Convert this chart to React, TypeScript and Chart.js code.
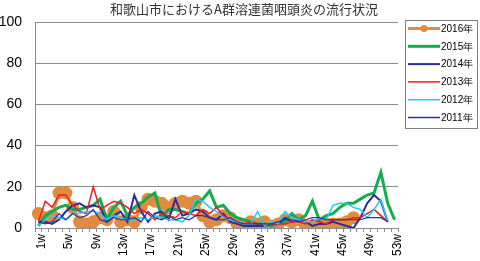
import React, { useEffect, useRef } from "react";
import { Chart, registerables } from "chart.js";

Chart.register(...registerables);

const TITLE = "和歌山市におけるA群溶連菌咽頭炎の流行状況";

const weeks = [
  "1w","2w","3w","4w","5w","6w","7w","8w","9w","10w",
  "11w","12w","13w","14w","15w","16w","17w","18w","19w","20w",
  "21w","22w","23w","24w","25w","26w","27w","28w","29w","30w",
  "31w","32w","33w","34w","35w","36w","37w","38w","39w","40w",
  "41w","42w","43w","44w","45w","46w","47w","48w","49w","50w",
  "51w","52w","53w",
];

const yTicks = [0, 20, 40, 60, 80, 100];

const s2016 = [7,5,6,17,17,10,3,2,3,5, 4,8,3,4,3,10,14,13,12,10, 12,13,12,13,6,3,4,6,5,2, 1,3,2,3,1,2,4,3,4,1, 1,1,2,2,2,3,5,null,null,null, null,null,null];
const s2015 = [1,6,8,10,11,9,9,10,11,14, 4,10,13,6,10,12,15,17,5,9, 9,8,7,12,14,18,10,11,7,5, 4,3,2,2,1,2,3,7,4,6, 13,4,6,7,10,12,12,14,16,17, 27,12,4];
const s2014 = [3,3,2,4,8,11,12,10,11,10, 3,6,8,3,16,8,3,7,8,4, 14,6,7,9,8,5,4,7,3,2, 1,1,1,1,2,2,5,3,4,3, 1,2,2,3,2,1,0,5,12,16, 13,3,null];
const s2013 = [3,13,10,16,16,11,8,7,20,9, 11,13,12,10,7,9,7,4,7,6, 5,8,7,6,9,7,10,6,4,3, 2,3,2,2,2,2,2,3,3,2, 4,3,2,4,4,4,5,5,7,9, 6,3,null];
const s2012 = [1,4,6,5,4,7,7,8,8,7, 4,6,5,4,4,5,4,6,5,4, 4,3,6,14,13,10,8,5,4,3, 2,2,8,1,3,2,8,5,4,3, 3,5,4,11,12,12,10,9,5,9, 14,3,null];
const s2011 = [3,2,3,7,4,7,5,6,9,4, 3,5,4,4,5,3,8,5,4,6, 4,5,4,6,6,5,4,4,5,3, 2,2,2,2,2,3,4,4,3,4, 5,5,4,4,4,4,4,4,5,5, 5,3,null];

const seriesNames = ["2016年", "2015年", "2014年", "2013年", "2012年", "2011年"];
const seriesData = [s2016, s2015, s2014, s2013, s2012, s2011];
const seriesColors = ["#E28A3E", "#12AD4E", "#2B2E96", "#EE1C24", "#22CCF5", "#33309A"];
const seriesWidths = [3, 3, 2, 1.5, 1.5, 1.2];

const GRID = "#8c8c8c";

const overlayPlugin = {
  id: "overlay",
  afterDraw(chart: any) {
    const ctx = chart.ctx;
    ctx.save();
    // title
    ctx.fillStyle = "#333333";
    ctx.font = '13px "Noto Sans CJK JP", sans-serif';
    ctx.textAlign = "center";
    ctx.textBaseline = "middle";
    ctx.fillText(TITLE, 244, 9);
    // legend
    const bx = 405.5, by = 20.5, bw = 72, bh = 108;
    ctx.strokeStyle = "#808080";
    ctx.lineWidth = 1;
    ctx.strokeRect(bx, by, bw, bh);
    ctx.font = '10px "Liberation Sans", Arial, sans-serif';
    ctx.textAlign = "left";
    ctx.textBaseline = "middle";
    for (let i = 0; i < seriesNames.length; i++) {
      const y = 28.5 + i * 17.8;
      ctx.strokeStyle = seriesColors[i];
      ctx.lineWidth = Math.max(seriesWidths[i], 1.5);
      ctx.beginPath();
      ctx.moveTo(408, y);
      ctx.lineTo(440, y);
      ctx.stroke();
      if (i === 0) {
        ctx.fillStyle = seriesColors[0];
        ctx.beginPath();
        ctx.arc(424, y, 3.5, 0, Math.PI * 2);
        ctx.fill();
      }
      ctx.fillStyle = "#000000";
      ctx.fillText(seriesNames[i], 441, y + 0.5);
    }
    ctx.restore();
  },
};

export default function App() {
  const ref = useRef<HTMLCanvasElement | null>(null);
  useEffect(() => {
    if (!ref.current) return;
    const datasets = seriesData.map((d, i) => ({
      label: seriesNames[i],
      data: d,
      borderColor: seriesColors[i],
      backgroundColor: seriesColors[i],
      borderWidth: seriesWidths[i],
      pointRadius: i === 0 ? 6.5 : 0,
      pointBorderWidth: 0,
      pointHoverRadius: 0,
      tension: 0,
      fill: false,
      spanGaps: false,
      order: 6 - i,
    }));
    const chart = new Chart(ref.current, {
      type: "line",
      data: { labels: weeks, datasets },
      options: {
        responsive: false,
        animation: false,
        events: [],
        layout: { padding: { top: 22, right: 82, left: 0, bottom: 0 } },
        plugins: {
          legend: { display: false },
          title: { display: false },
          tooltip: { enabled: false },
        },
        scales: {
          x: {
            type: "category",
            offset: true,
            afterFit: (s: any) => { s.height = 33; },
            grid: {
              display: true,
              offset: true,
              drawOnChartArea: false,
              drawTicks: true,
              tickLength: 4,
              color: GRID,
            },
            border: { display: true, color: GRID },
            ticks: {
              autoSkip: false,
              minRotation: 90,
              maxRotation: 90,
              padding: 2,
              labelOffset: 3,
              color: "#000000",
              font: { family: '"Liberation Sans", Arial, sans-serif', size: 12 },
              callback: (_v: any, idx: number) => (idx % 4 === 0 ? weeks[idx] : ""),
            },
          },
          y: {
            min: yTicks[0],
            max: yTicks[yTicks.length - 1],
            afterFit: (s: any) => { s.width = 35; },
            afterBuildTicks: (s: any) => { s.ticks = yTicks.map((v) => ({ value: v })); },
            grid: { color: GRID, drawTicks: false, lineWidth: 1 },
            border: { display: true, color: GRID },
            ticks: {
              padding: 13,
              color: "#000000",
              font: { family: '"Liberation Sans", Arial, sans-serif', size: 14 },
            },
          },
        },
      },
      plugins: [overlayPlugin],
    });
    return () => chart.destroy();
  }, []);
  return (
    <div style={{ position: "absolute", left: 0, top: 0, width: 480, height: 261, background: "#fff" }}>
      <canvas ref={ref} width={480} height={261} />
    </div>
  );
}
